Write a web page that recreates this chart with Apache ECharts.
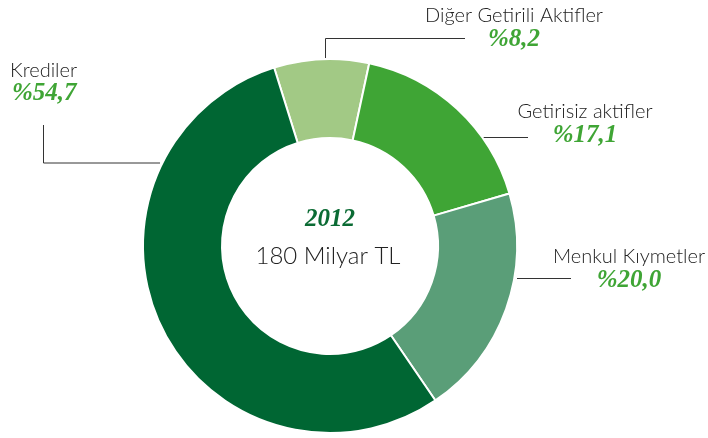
<!DOCTYPE html>
<html>
<head>
<meta charset="utf-8">
<script src="https://cdn.jsdelivr.net/npm/echarts@6/dist/echarts.min.js"></script>
<style>
  html, body { margin: 0; padding: 0; background: #fff; }
  #chart { width: 708px; height: 438px; }
</style>
</head>
<body>
<div id="chart"></div>
<script>
// dilimler (saat yönünde, üstten)
const names = ['Diğer Getirili Aktifler', 'Getirisiz aktifler', 'Menkul Kıymetler', 'Krediler']
const shares = [8.2, 17.1, 20.0, 54.7]
const colors = ['#a2c985', '#3fa535', '#5a9e78', '#006633']
const centerYear = '2012'
const centerTotal = '180 Milyar TL'

// etiket yerleri: isim satırı ve yüzde satırı
const labelPos = [
  { x: 514, y: 16, py: 40, align: 'center' },
  { x: 585, y: 112, py: 136, align: 'center' },
  { x: 629, y: 257, py: 281, align: 'center' },
  { x: 10, y: 71, py: 94, align: 'left' }
]

const chart = echarts.init(document.getElementById('chart'))

const fmt = v => '%' + v.toFixed(1).replace('.', ',')

const line = pts => ({
  type: 'polyline',
  shape: { points: pts },
  style: { stroke: '#333', lineWidth: 1, fill: null },
  silent: true
})

// yüzde yazıları
const pctTexts = shares.map((v, i) => ({
  type: 'text',
  x: labelPos[i].x + (labelPos[i].align === 'left' ? 2 : 0),
  y: labelPos[i].py,
  silent: true,
  style: {
    text: fmt(v),
    align: labelPos[i].align,
    verticalAlign: 'middle',
    font: "italic bold 25px 'Liberation Serif', serif",
    fill: '#3fa535'
  }
}))

const option = {
  animation: false,
  graphic: [
    line([[160, 163], [43.5, 163], [43.5, 125]]),
    line([[325.5, 58], [325.5, 38.5], [465, 38.5]]),
    line([[483, 137.5], [528, 137.5]]),
    line([[517, 278.5], [571, 278.5]]),
    ...pctTexts,
    {
      type: 'text',
      x: 330,
      y: 207,
      style: {
        text: centerYear,
        align: 'center',
        font: "italic bold 25px 'Liberation Serif', serif",
        fill: '#0b6b34'
      }
    },
    {
      type: 'text',
      x: 328,
      y: 244,
      style: {
        text: centerTotal,
        align: 'center',
        font: '300 24px Lato',
        fill: '#222'
      }
    }
  ],
  series: [
    {
      type: 'pie',
      center: [330, 246],
      radius: [108, 187],
      startAngle: 107.4,
      clockwise: true,
      itemStyle: { borderColor: '#fff', borderWidth: 2 },
      labelLine: { show: false },
      label: {
        show: true,
        position: 'outside',
        overflow: 'none',
        formatter: '{b}',
        fontFamily: 'Lato',
        fontWeight: 300,
        fontSize: 20,
        color: '#222'
      },
      labelLayout: p => {
        const l = labelPos[p.dataIndex]
        return { x: l.x, y: l.y, align: l.align, verticalAlign: 'middle', width: 220 }
      },
      emphasis: { disabled: true },
      data: names.map((n, i) => ({ name: n, value: shares[i], itemStyle: { color: colors[i] } }))
    }
  ]
}

chart.setOption(option)
</script>
</body>
</html>
